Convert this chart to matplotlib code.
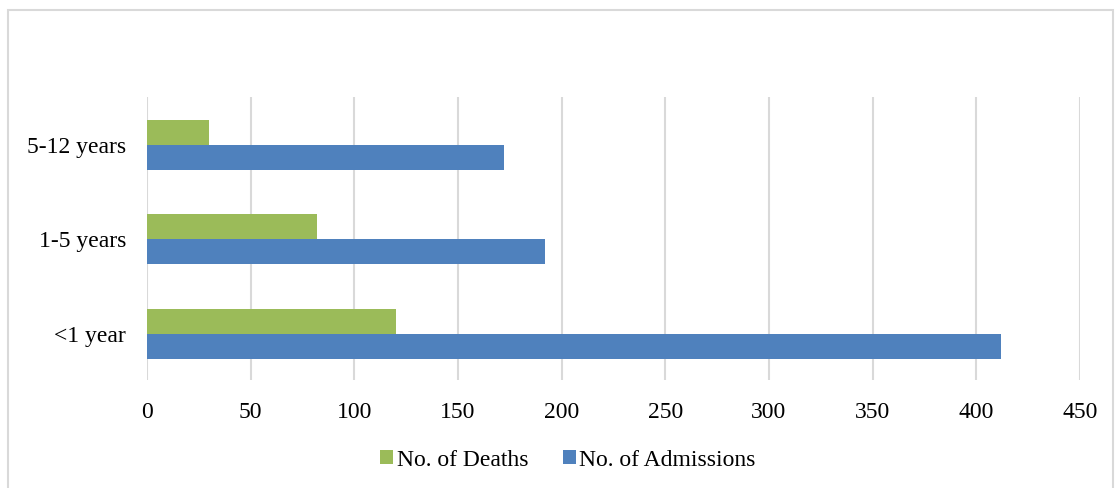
import matplotlib.pyplot as plt
from matplotlib.patches import Rectangle
import numpy as np

plt.rcParams['font.family'] = ['Liberation Serif', 'DejaVu Serif']

# data
categories = ['<1 year', '1-5 years', '5-12 years']
admissions = [412, 192, 172]
deaths = [120, 82, 30]
xticks = [0, 50, 100, 150, 200, 250, 300, 350, 400, 450]

fig = plt.figure(figsize=(11.18, 4.89), dpi=100)
ax = fig.add_axes([0.1315, 0.2209, 0.8345, 0.5787])

y = np.arange(len(categories))
h = 0.265
ax.barh(y + h / 2 - 0.008, deaths, height=h, color='#9BBB59', label='No. of Deaths', zorder=3)
ax.barh(y - h / 2 - 0.008, admissions, height=h, color='#4F81BD', label='No. of Admissions', zorder=3)

ax.set_xlim(0, 450)
ax.set_ylim(-0.5, 2.5)
ax.set_xticks(xticks)
ax.set_yticks(y)
ax.set_yticklabels(categories)
ax.tick_params(axis='both', length=0, labelsize=17, colors='black')
ax.tick_params(axis='x', pad=15)
ax.tick_params(axis='y', pad=15)
ax.grid(axis='x', color='#d9d9d9', linewidth=1.5, zorder=0)
for s in ax.spines.values():
    s.set_visible(False)

# light border around the chart area
fig.patches.append(Rectangle((8 / 1118, -0.05), 1105 / 1118, 1 - 11 / 489 + 0.05,
                             transform=fig.transFigure, fill=False,
                             edgecolor='#d9d9d9', linewidth=1.5))

fig.legend(loc='center', bbox_to_anchor=(568 / 1118, 1 - 461 / 489), ncol=2,
           frameon=False, fontsize=17, handlelength=0.55, handleheight=0.55,
           handletextpad=0.15, columnspacing=1.45)

fig.savefig('out.png', dpi=100)
